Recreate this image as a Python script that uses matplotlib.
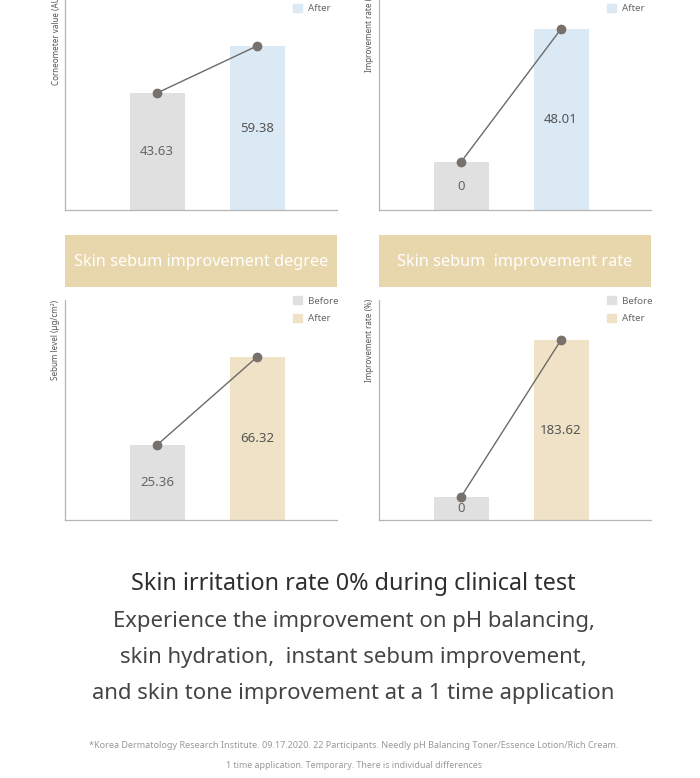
import matplotlib.pyplot as plt
from matplotlib.patches import Patch, Rectangle

plt.rcParams["font.family"] = ["Noto Sans", "DejaVu Sans"]

W, H = 700, 778
fig = plt.figure(figsize=(7, 7.78), dpi=100)

groups = ["Before", "After"]
# bar heights as drawn in the picture (chart units), labels as printed
hydration_heights = [117, 164]
hydration_labels = ["43.63", "59.38"]
hydration_rate_heights = [48, 181]
hydration_rate_labels = ["0", "48.01"]
sebum_heights = [75, 163]
sebum_labels = ["25.36", "66.32"]
sebum_rate_heights = [23, 180]
sebum_rate_labels = ["0", "183.62"]

ylabels = ["Corneometer value (AU)", "Improvement rate (%)",
           "Sebum level (\u00b5g/cm\u00b2)", "Improvement rate (%)"]
banner_titles = ["Skin sebum improvement degree", "Skin sebum  improvement rate"]

gray = "#e0e0e0"
blue = "#dbe9f5"
tan = "#efe2c6"
banner_col = "#e8d6ac"
dot = "#77706b"
spine_col = "#b5b5b5"


def px_axes(x0, y_bottom, w, h):
    return fig.add_axes([x0 / W, 1 - y_bottom / H, w / W, h / H])


def panel(ax, heights, labels, after_col, x_left):
    ax.bar([0, 1], heights, width=0.55, color=[gray, after_col], zorder=1)
    ax.plot([0, 1], heights, color="#6e6a66", lw=1, marker="o", ms=6,
            mfc=dot, mec=dot, zorder=3)
    for i, (h, lab) in enumerate(zip(heights, labels)):
        ax.text(i, h / 2, lab, ha="center", va="center", fontsize=9.5,
                color="#666666" if i == 0 else "#555555")
    ax.set_xlim(x_left, x_left + 2.72)
    ax.set_ylim(0, 220)
    for s in ["top", "right"]:
        ax.spines[s].set_visible(False)
    for s in ["left", "bottom"]:
        ax.spines[s].set_color(spine_col)
        ax.spines[s].set_linewidth(0.9)
    ax.set_xticks([])
    ax.set_yticks([])
    handles = [Patch(color=gray, label=groups[0]), Patch(color=after_col, label=groups[1])]
    ax.legend(handles=handles, loc="upper left", bbox_to_anchor=(x_left + 2.28, 224),
              bbox_transform=ax.transData, frameon=False, fontsize=7,
              handlelength=0.95, handleheight=0.95, handletextpad=0.6,
              labelspacing=0.85, borderpad=0, borderaxespad=0,
              labelcolor="#666666")
    return ax


axes = [px_axes(65, 210, 272, 220), px_axes(379, 210, 272, 220),
        px_axes(65, 520, 272, 220), px_axes(379, 520, 272, 220)]
panel(axes[0], hydration_heights, hydration_labels, blue, -0.92)
panel(axes[1], hydration_rate_heights, hydration_rate_labels, blue, -0.82)
panel(axes[2], sebum_heights, sebum_labels, tan, -0.92)
panel(axes[3], sebum_rate_heights, sebum_rate_labels, tan, -0.82)

# y labels (top ones run off the top of the picture, as in the source)
fig.text(57 / W, 1 - 85 / H, ylabels[0], rotation=90, ha="center", va="bottom",
         fontsize=5.8, color="#555555")
fig.text(370 / W, 1 - 72 / H, ylabels[1], rotation=90, ha="center", va="bottom",
         fontsize=5.8, color="#555555")
fig.text(56 / W, 1 - 340 / H, ylabels[2], rotation=90, ha="center", va="center",
         fontsize=5.8, color="#555555")
fig.text(370 / W, 1 - 340 / H, ylabels[3], rotation=90, ha="center", va="center",
         fontsize=5.8, color="#555555")

# banners
for x0, title in zip([65, 379], banner_titles):
    fig.add_artist(Rectangle((x0 / W, 1 - 287 / H), 272 / W, 52 / H,
                             transform=fig.transFigure, color=banner_col, lw=0))
    fig.text((x0 + 136) / W, 1 - 262 / H, title, ha="center", va="center",
             fontsize=11.7, color="white")

# bottom text
cx = 0.505
fig.text(cx, 1 - 584 / H, "Skin irritation rate 0% during clinical test",
         ha="center", va="center", fontsize=16.8, color="#2e2e2e", fontweight="medium")
body = ["Experience the improvement on pH balancing,",
        "skin hydration,  instant sebum improvement,",
        "and skin tone improvement at a 1 time application"]
for y, line in zip([621, 657, 694], body):
    fig.text(cx, 1 - y / H, line, ha="center", va="center", fontsize=15.9,
             color="#444444", fontweight="light")
fig.text(cx, 1 - 746 / H,
         "*Korea Dermatology Research Institute. 09.17.2020. 22 Participants. "
         "Needly pH Balancing Toner/Essence Lotion/Rich Cream.",
         ha="center", va="center", fontsize=6.5, color="#999999")
fig.text(cx, 1 - 765 / H,
         "1 time application. Temporary. There is individual differences",
         ha="center", va="center", fontsize=6.4, color="#999999")

fig.savefig("out.png", dpi=100)
